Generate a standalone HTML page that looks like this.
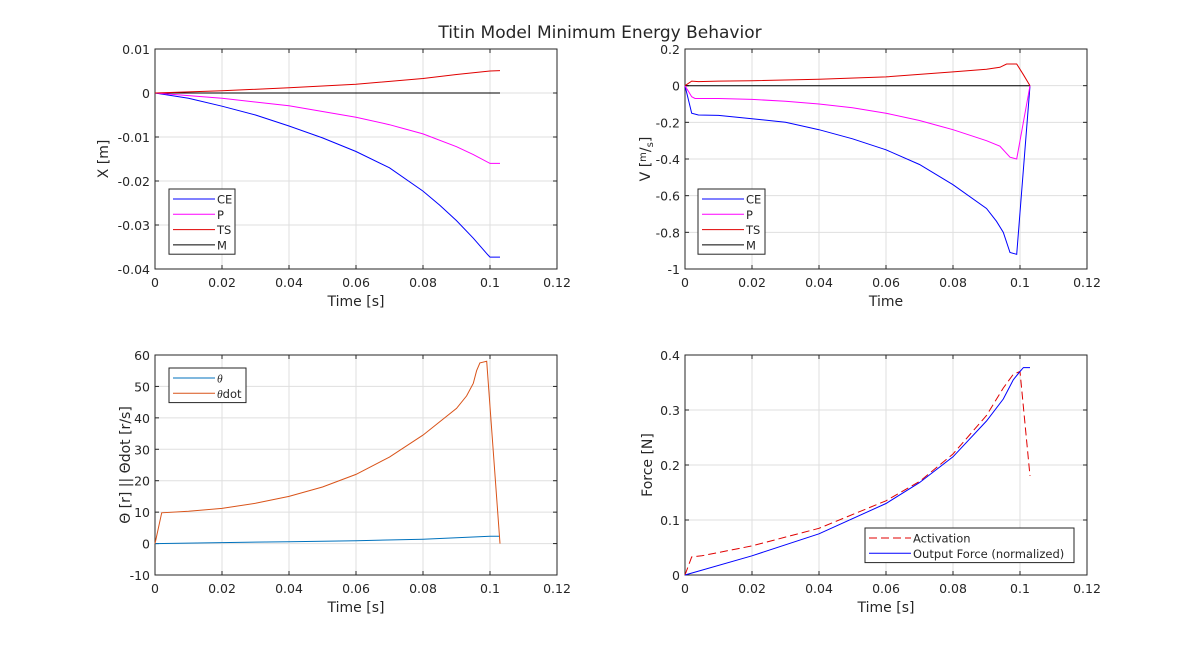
<!DOCTYPE html>
<html><head><meta charset="utf-8"><style>
body{margin:0;background:#fff;width:1201px;height:647px;overflow:hidden}
svg text{font-family:"DejaVu Sans","Liberation Sans",sans-serif;fill:#262626}
</style></head><body>
<svg id="fig" width="1201" height="647" xmlns="http://www.w3.org/2000/svg">
<rect width="1201" height="647" fill="#fff"/>
<text x="600" y="38" font-size="17" text-anchor="middle">Titin Model Minimum Energy Behavior</text>
</svg>
<script>
// ---- data ----
const xTicks=[0,0.02,0.04,0.06,0.08,0.1,0.12];
const xTickLabels=["0","0.02","0.04","0.06","0.08","0.1","0.12"];
// Plot 1: position
const p1T_CE=[0,0.01,0.02,0.03,0.04,0.05,0.06,0.07,0.08,0.085,0.09,0.095,0.099,0.1,0.103];
const p1CE=[0,-0.0012,-0.003,-0.005,-0.0075,-0.0102,-0.0133,-0.017,-0.0223,-0.0255,-0.029,-0.033,-0.0365,-0.0373,-0.0373];
const p1T_P=[0,0.02,0.04,0.06,0.07,0.08,0.09,0.095,0.1,0.103];
const p1P=[0,-0.0012,-0.0029,-0.0055,-0.0072,-0.0093,-0.0122,-0.014,-0.016,-0.016];
const p1T_TS=[0,0.02,0.04,0.06,0.08,0.09,0.1,0.103];
const p1TS=[0,0.0005,0.0012,0.002,0.0033,0.0042,0.005,0.0051];
const p1T_M=[0,0.103];
const p1M=[0,0];
const p1YTicks=[0.01,0,-0.01,-0.02,-0.03,-0.04];
const p1YLabels=["0.01","0","-0.01","-0.02","-0.03","-0.04"];
// Plot 2: velocity
const p2T_CE=[0,0.002,0.004,0.01,0.02,0.03,0.04,0.05,0.06,0.07,0.08,0.09,0.093,0.095,0.097,0.099,0.103];
const p2CE=[0,-0.15,-0.16,-0.162,-0.18,-0.2,-0.24,-0.29,-0.35,-0.43,-0.54,-0.67,-0.74,-0.8,-0.91,-0.92,0];
const p2T_P=[0,0.002,0.003,0.01,0.02,0.03,0.04,0.05,0.06,0.07,0.08,0.09,0.094,0.097,0.099,0.103];
const p2P=[0,-0.06,-0.07,-0.07,-0.075,-0.085,-0.1,-0.12,-0.15,-0.19,-0.24,-0.3,-0.33,-0.39,-0.4,0];
const p2T_TS=[0,0.002,0.004,0.01,0.02,0.04,0.06,0.08,0.09,0.094,0.096,0.099,0.101,0.103];
const p2TS=[0,0.025,0.022,0.025,0.027,0.035,0.048,0.075,0.09,0.1,0.118,0.118,0.06,0];
const p2T_M=[0,0.103];
const p2M=[0,0];
const p2YTicks=[0.2,0,-0.2,-0.4,-0.6,-0.8,-1];
const p2YLabels=["0.2","0","-0.2","-0.4","-0.6","-0.8","-1"];
// Plot 3: angle
const p3T_th=[0,0.02,0.04,0.06,0.08,0.1,0.103];
const p3Th=[0,0.3,0.6,0.9,1.4,2.3,2.3];
const p3T_thd=[0,0.002,0.01,0.02,0.03,0.04,0.05,0.06,0.07,0.08,0.09,0.093,0.095,0.096,0.097,0.099,0.103];
const p3Thd=[0,9.8,10.3,11.2,12.8,15,18,22,27.5,34.5,43,47,51,55,57.5,58,0];
const p3YTicks=[60,50,40,30,20,10,0,-10];
const p3YLabels=["60","50","40","30","20","10","0","-10"];
// Plot 4: force
const p4T_act=[0,0.002,0.005,0.02,0.04,0.06,0.07,0.08,0.09,0.095,0.098,0.1,0.103];
const p4Act=[0,0.033,0.035,0.053,0.085,0.135,0.17,0.22,0.29,0.34,0.365,0.37,0.18];
const p4T_out=[0,0.02,0.04,0.06,0.07,0.08,0.09,0.095,0.098,0.1,0.101,0.103];
const p4Out=[0,0.035,0.075,0.13,0.168,0.215,0.28,0.32,0.355,0.37,0.377,0.377];
const p4YTicks=[0.4,0.3,0.2,0.1,0];
const p4YLabels=["0.4","0.3","0.2","0.1","0"];

const NS="http://www.w3.org/2000/svg";
const fig=document.getElementById('fig');
function mk(tag,attrs,parent){const e=document.createElementNS(NS,tag);for(const k in attrs)e.setAttribute(k,attrs[k]);(parent||fig).appendChild(e);return e;}

function axes(id,L,R,T,B,ymin,ymax,yT,yL,xlabel,ylabelHTML,ylx){
  const g=mk('g',{});
  
  
  const sx=v=>L+(v-0)/(0.12)*(R-L);
  const sy=v=>B-(v-ymin)/(ymax-ymin)*(B-T);
  xTicks.forEach((t,i)=>{
    const x=sx(t);
    const gl=mk('line',{x1:x,x2:x,y1:T,y2:B,stroke:'#dfdfdf','stroke-width':1},g);
    
    
    mk('line',{x1:x,x2:x,y1:B,y2:B-4,stroke:'#262626'},g);
    mk('line',{x1:x,x2:x,y1:T,y2:T+4,stroke:'#262626'},g);
    const tx=mk('text',{x:x,y:B+18,'font-size':12.5,'text-anchor':'middle'},g);
    tx.textContent=xTickLabels[i];
    
    
  });
  yT.forEach((t,i)=>{
    const y=sy(t);
    const gl=mk('line',{x1:L,x2:R,y1:y,y2:y,stroke:'#dfdfdf','stroke-width':1},g);
    
    
    mk('line',{x1:L,x2:L+4,y1:y,y2:y,stroke:'#262626'},g);
    mk('line',{x1:R,x2:R-4,y1:y,y2:y,stroke:'#262626'},g);
    const tx=mk('text',{x:L-5,y:y+5,'font-size':12.5,'text-anchor':'end'},g);
    tx.textContent=yL[i];
    
    
  });
  const box=mk('rect',{x:L,y:T,width:R-L,height:B-T,fill:'none',stroke:'#262626','stroke-width':1},g);
  
  
  const xl=mk('text',{x:(L+R)/2,y:B+37,'font-size':14,'text-anchor':'middle'},g);
  xl.textContent=xlabel;
  
  
  const yl=mk('text',{x:0,y:0,'font-size':14,'text-anchor':'middle',transform:`translate(${ylx},${(T+B)/2}) rotate(-90)`},g);
  yl.innerHTML=ylabelHTML;
  
  
  return {sx,sy};
}
function line(ax,ts,vs,color,name,dash){
  const pts=ts.map((t,i)=>ax.sx(t).toFixed(1)+','+ax.sy(vs[i]).toFixed(1)).join(' ');
  const a={points:pts,fill:'none',stroke:color,'stroke-width':1};
  if(dash)a['stroke-dasharray']=dash;
  const p=mk('polyline',a);
  
  
}
function legend(name,x,y,w,entries,lineLen){
  const g=mk('g',{});
  
  
  mk('rect',{x:x,y:y,width:w,height:entries.length*15.3+4,fill:'#fff',stroke:'#262626'},g);
  entries.forEach((e,i)=>{
    const cy=y+10+i*15.3;
    const a={x1:x+4,x2:x+4+lineLen,y1:cy,y2:cy,stroke:e[1]};
    if(e[2])a['stroke-dasharray']=e[2];
    mk('line',a,g);
    const t=mk('text',{x:x+6+lineLen,y:cy+4.5,'font-size':11.5},g);
    t.innerHTML=e[0];
    
    
  });
}
const BLUE='#0000ff',MAG='#ff00ff',RED='#e00000',BLK='#000';
const a1=axes('position',155,557,49,269,-0.04,0.01,p1YTicks,p1YLabels,'Time [s]','X [m]',108);
line(a1,p1T_M,p1M,BLK,'series-m');
line(a1,p1T_CE,p1CE,BLUE,'series-ce');
line(a1,p1T_P,p1P,MAG,'series-p');
line(a1,p1T_TS,p1TS,RED,'series-ts');
legend('position-legend',169,189,66,[['CE',BLUE],['P',MAG],['TS',RED],['M',BLK]],42);

const a2=axes('velocity',685,1087,49,269,-1,0.2,p2YTicks,p2YLabels,'Time','V [<tspan font-size="10" dy="-4">m</tspan><tspan dy="4">/</tspan><tspan font-size="10" dy="3">s</tspan><tspan dy="-3">]</tspan>',650);
line(a2,p2T_M,p2M,BLK,'series-m');
line(a2,p2T_CE,p2CE,BLUE,'series-ce');
line(a2,p2T_P,p2P,MAG,'series-p');
line(a2,p2T_TS,p2TS,RED,'series-ts');
legend('velocity-legend',698,189,67,[['CE',BLUE],['P',MAG],['TS',RED],['M',BLK]],42);

const a3=axes('angle',155,557,355,575,-10,60,p3YTicks,p3YLabels,'Time [s]','Θ [r] || Θdot [r/s]',130);
line(a3,p3T_th,p3Th,'#0072BD','series-theta');
line(a3,p3T_thd,p3Thd,'#D95319','series-thetadot');
legend('angle-legend',169,368,77,[['<tspan font-style="italic" font-family="Liberation Serif">θ</tspan>','#0072BD'],['<tspan font-style="italic" font-family="Liberation Serif">θ</tspan>dot','#D95319']],42);

const a4=axes('force',685,1087,355,575,0,0.4,p4YTicks,p4YLabels,'Time [s]','Force [N]',652);
line(a4,p4T_act,p4Act,RED,'series-activation','8,4');
line(a4,p4T_out,p4Out,BLUE,'series-output-force');
legend('force-legend',865,528,209,[['Activation',RED,'8,4'],['Output Force (normalized)',BLUE]],42);
</script>
</body></html>
